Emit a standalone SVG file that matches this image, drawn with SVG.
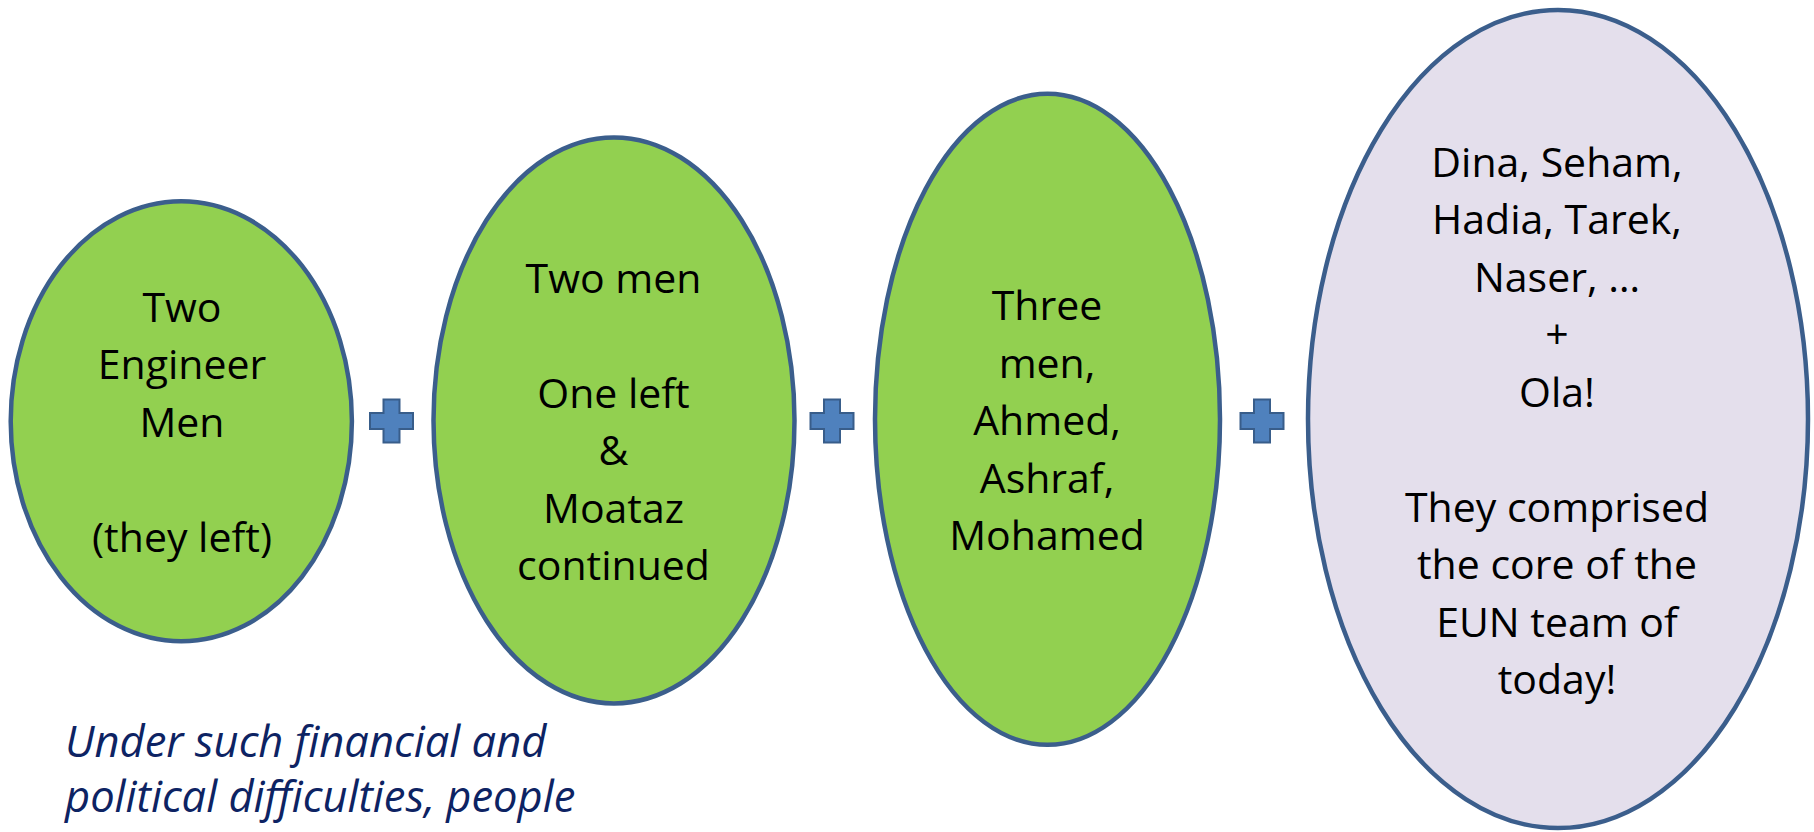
<svg xmlns="http://www.w3.org/2000/svg" xmlns:xlink="http://www.w3.org/1999/xlink" width="1814" height="832" viewBox="0 0 1814 832">
<style>
.green{fill:#92D050;stroke:#3B5E8C;stroke-width:4.5}
.lav{fill:#E4DFEC;stroke:#3B5E8C;stroke-width:4.5}
.t{font-family:"Open Sans","Liberation Sans",sans-serif;font-size:41px;fill:#000;text-anchor:middle}
.note{font-family:"Open Sans","Liberation Sans",sans-serif;font-style:italic;font-size:43.5px;fill:#0D2363}
.plus{fill:#4F81BD;stroke:#385D8A;stroke-width:2}
</style>
<defs>
<path id="plus" d="M-8,-21.5 h16 v13.5 h13.5 v16 h-13.5 v13.5 h-16 v-13.5 h-13.5 v-16 h13.5 z"/>
</defs>
<rect width="1814" height="832" fill="#fff"/>
<g id="connectors">
<use xlink:href="#plus" href="#plus" class="plus" x="391.5" y="421"/>
<use xlink:href="#plus" href="#plus" class="plus" x="832" y="421"/>
<use xlink:href="#plus" href="#plus" class="plus" x="1262" y="421"/>
</g>
<g id="node1">
<ellipse class="green" cx="181.3" cy="421.3" rx="170.6" ry="220"/>
<text class="t" x="182"><tspan x="182" y="321.7">Two</tspan><tspan x="182" y="379.2">Engineer</tspan><tspan x="182" y="436.7">Men</tspan><tspan x="182" y="551.7">(they left)</tspan></text>
</g>
<g id="node2">
<ellipse class="green" cx="614" cy="420.4" rx="180.5" ry="283"/>
<text class="t" x="613.5"><tspan x="613.5" y="292.5">Two men</tspan><tspan x="613.5" y="407.5">One left</tspan><tspan x="613.5" y="465">&amp;</tspan><tspan x="613.5" y="522.5">Moataz</tspan><tspan x="613.5" y="580">continued</tspan></text>
</g>
<g id="node3">
<ellipse class="green" cx="1047.5" cy="419.3" rx="172.5" ry="325.5"/>
<text class="t" x="1047"><tspan x="1047" y="320">Three</tspan><tspan x="1047" y="377.5">men,</tspan><tspan x="1047" y="435">Ahmed,</tspan><tspan x="1047" y="492.5">Ashraf,</tspan><tspan x="1047" y="550">Mohamed</tspan></text>
</g>
<g id="node4">
<ellipse class="lav" cx="1558" cy="419" rx="250" ry="409"/>
<text class="t" x="1557"><tspan x="1557" y="176.5">Dina, Seham,</tspan><tspan x="1557" y="234">Hadia, Tarek,</tspan><tspan x="1557" y="291.5">Naser, …</tspan><tspan x="1557" y="349">+</tspan><tspan x="1557" y="406.5">Ola!</tspan><tspan x="1557" y="521.5">They comprised</tspan><tspan x="1557" y="579">the core of the</tspan><tspan x="1557" y="636.5">EUN team of</tspan><tspan x="1557" y="694">today!</tspan></text>
</g>
<g id="note">
<text class="note"><tspan x="65" y="757">Under such financial and</tspan><tspan x="65" y="812">political difficulties, people</tspan></text>
</g>
</svg>
